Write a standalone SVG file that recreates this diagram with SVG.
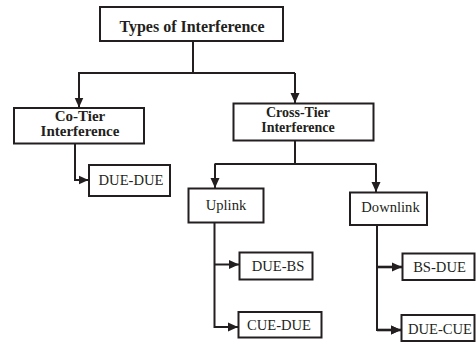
<svg xmlns="http://www.w3.org/2000/svg" width="476" height="343" viewBox="0 0 476 343">
<style>
.box{fill:#fff;stroke:#231f20;stroke-width:2}
.ln{fill:none;stroke:#231f20;stroke-width:2}
.thk{stroke-width:2.6}
.b{font-weight:bold;fill:#231f20;text-anchor:middle}
.r{font-size:14.6px;fill:#231f20;text-anchor:middle}
text{font-family:'Liberation Serif','Times New Roman','DejaVu Serif',serif}
</style>
<defs>
<marker id="ah" markerUnits="userSpaceOnUse" markerWidth="10" markerHeight="10" viewBox="0 0 10 10" refX="10" refY="5" orient="auto">
<path d="M0,0.5 L10,5 L0,9.5 Z" fill="#231f20"/>
</marker>
</defs>
<rect width="476" height="343" fill="#fff"/>
<g id="connectors">
<path class="ln" d="M193,41 V73"/>
<path class="ln" d="M78,73 H295"/>
<path class="ln" d="M79,73 V107.5" marker-end="url(#ah)"/>
<path class="ln" d="M295,73 V103" marker-end="url(#ah)"/>
<path class="ln" d="M75,143.5 V180 H88.5" marker-end="url(#ah)"/>
<path class="ln" d="M295,140.5 V164"/>
<path class="ln" d="M214.5,164 H376.5"/>
<path class="ln" d="M215,164 V188" marker-end="url(#ah)"/>
<path class="ln" d="M376,164 V192" marker-end="url(#ah)"/>
<path class="ln" d="M214.5,222.5 V327 H238" marker-end="url(#ah)"/>
<path class="ln" d="M214.5,264.5 H239" marker-end="url(#ah)"/>
<path class="ln" d="M377,224.5 V330 H401" marker-end="url(#ah)"/>
<path class="ln thk" d="M377,267 H402" marker-end="url(#ah)"/>
<path class="ln thk" d="M377,330 H401" marker-end="url(#ah)"/>
</g>
<g id="types">
<rect class="box" x="100" y="7" width="183" height="34"/>
<text class="b" x="192" y="31.5" font-size="16" font-family="Liberation Serif, serif">Types of Interference</text>
</g>
<g id="cotier">
<rect class="box" x="14" y="108" width="130" height="35.5"/>
<text class="b" x="80" y="121" font-size="15" font-family="Liberation Serif, serif">Co-Tier</text>
<text class="b" x="80" y="136" font-size="15" font-family="Liberation Serif, serif">Interference</text>
</g>
<g id="crosstier">
<rect class="box" x="233.5" y="103.5" width="140" height="37"/>
<text class="b" x="298" y="116.7" font-size="14" font-family="Liberation Serif, serif">Cross-Tier</text>
<text class="b" x="298" y="131.7" font-size="14" font-family="Liberation Serif, serif">Interference</text>
</g>
<g id="duedue">
<rect class="box" x="89" y="165" width="81" height="31"/>
<text class="r" x="131" y="185" font-family="Liberation Serif, serif">DUE-DUE</text>
</g>
<g id="uplink">
<rect class="box" x="188.5" y="188.5" width="75" height="34"/>
<text class="r" x="226" y="210" font-family="Liberation Serif, serif">Uplink</text>
</g>
<g id="downlink">
<rect class="box" x="350" y="192.5" width="77" height="32.5"/>
<text class="r" x="390.5" y="211.5" font-family="Liberation Serif, serif">Downlink</text>
</g>
<g id="duebs">
<rect class="box" x="239.5" y="252.5" width="73" height="27"/>
<text class="r" x="278" y="270.5" font-family="Liberation Serif, serif">DUE-BS</text>
</g>
<g id="cuedue">
<rect class="box" x="238.5" y="312" width="83" height="25.5"/>
<text class="r" x="279" y="329.5" font-family="Liberation Serif, serif">CUE-DUE</text>
</g>
<g id="bsdue">
<rect class="box" x="402.5" y="253.5" width="72" height="26.5"/>
<text class="r" x="439.5" y="272.3" font-family="Liberation Serif, serif">BS-DUE</text>
</g>
<g id="duecue">
<rect class="box" x="401.5" y="315" width="73" height="26"/>
<text class="r" x="440" y="334" font-family="Liberation Serif, serif">DUE-CUE</text>
</g>
</svg>
